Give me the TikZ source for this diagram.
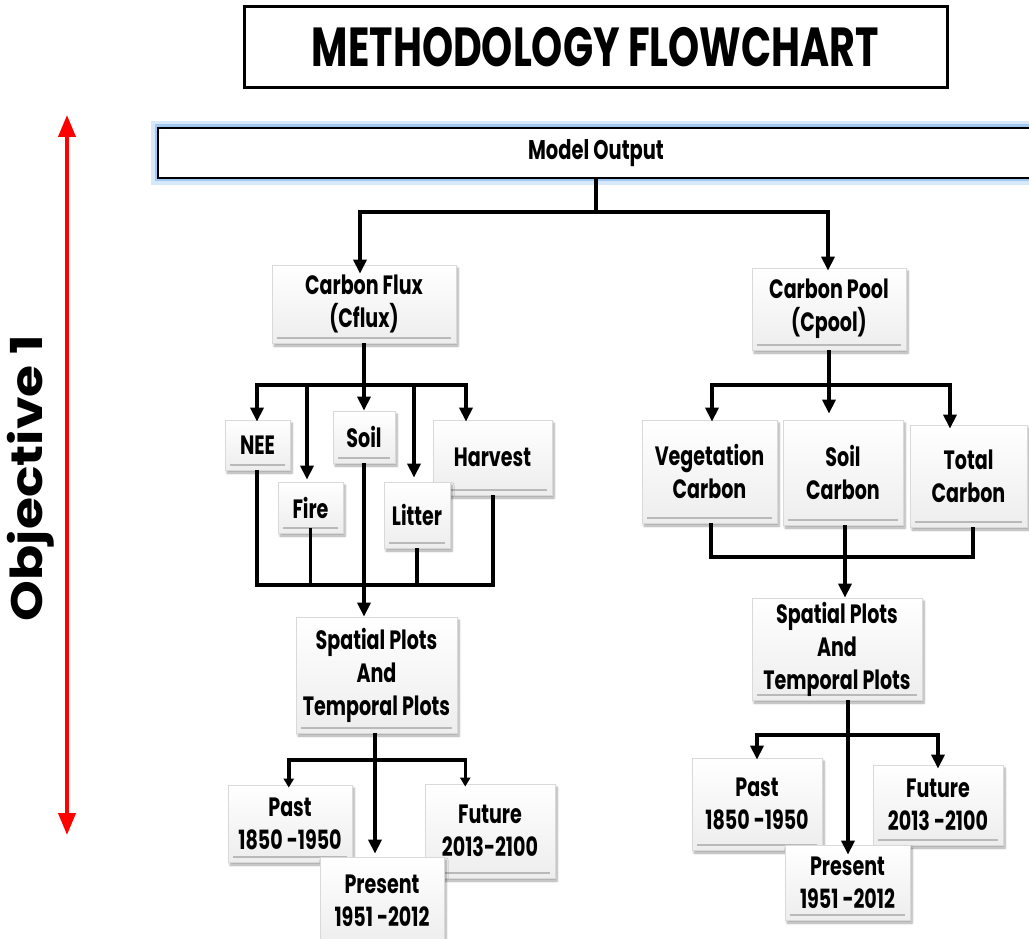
\documentclass[tikz,border=0pt]{standalone}
\usepackage{fontspec}
\setmainfont{Poppins}
\newfontfamily\narrowfont[FakeStretch=0.72]{Poppins}
\newfontfamily\widefont[FakeStretch=1.18]{Poppins}
\usetikzlibrary{arrows.meta,shadows.blur}
\definecolor{glowA}{RGB}{214,232,250}
\definecolor{glowB}{RGB}{160,200,240}
\tikzset{
  ln/.style={line width=3.5pt},
  arr/.style={line width=3.5pt,-{Triangle[length=14pt,width=13pt]}},
  arrs/.style={line width=3.5pt,-{Triangle[length=9pt,width=10pt]}},
  box/.style={draw=gray!30, line width=0.8pt, top color=white, bottom color=gray!14,
    blur shadow={shadow xshift=2pt, shadow yshift=-3pt, shadow blur steps=6, shadow opacity=35},
    align=center, inner sep=2pt, font=\narrowfont\bfseries\fontsize{26.5}{33}\selectfont,
    path picture={\draw[gray!55, line width=1.6pt]
      ([xshift=5pt,yshift=5pt]path picture bounding box.south west) --
      ([xshift=-5pt,yshift=5pt]path picture bounding box.south east);}},
}
\begin{document}
\begin{tikzpicture}[x=1pt,y=-1pt]
\useasboundingbox (0,0) rectangle (1029,939);
% title
\node[draw=black, line width=3pt, minimum width=703pt, minimum height=81pt,
  font=\narrowfont\bfseries\fontsize{55}{55}\selectfont] (title) at (595.5,47.5) {METHODOLOGY FLOWCHART};
% objective arrow
\coordinate (objtop) at (67,115);
\coordinate (objbot) at (67,835);
\draw[red, line width=4pt, {Triangle[length=22pt,width=17pt]}-{Triangle[length=22pt,width=17pt]}] (objtop) -- (objbot);
\node[rotate=90, font=\widefont\bfseries\fontsize{44}{44}\selectfont] (obj) at (31,478) {Objective 1};
% model output
\node[draw=black, line width=1.3pt, fill=white, minimum width=876pt, minimum height=50pt,
  preaction={draw=glowA, line width=14pt}, preaction={draw=glowB, line width=7pt},
  font=\narrowfont\bfseries\fontsize{27}{27}\selectfont] (mo) at (596,153) {Model Output};
% level 1
\node[box, minimum width=184pt, minimum height=78pt] (cflux) at (364,304) {Carbon Flux\\(Cflux)};
\node[box, minimum width=154pt, minimum height=82pt] (cpool) at (829,309) {Carbon Pool\\(Cpool)};
% flux children
\node[box, minimum width=65pt, minimum height=50pt] (nee) at (257.5,445) {NEE};
\node[box, minimum width=65pt, minimum height=51pt] (fire) at (310.5,507.5) {Fire};
\node[box, minimum width=62pt, minimum height=52pt] (soil) at (364,437) {Soil};
\node[box, minimum width=119pt, minimum height=75pt] (harvest) at (492.5,457.5) {Harvest};
\node[box, minimum width=66pt, minimum height=66pt] (litter) at (417,515) {Litter};
% pool children
\node[box, minimum width=135pt, minimum height=103pt] (veg) at (709.5,471.5) {Vegetation\\Carbon};
\node[box, minimum width=120pt, minimum height=105pt] (soilc) at (843,472.5) {Soil\\Carbon};
\node[box, minimum width=117pt, minimum height=102pt] (total) at (968.5,476) {Total\\Carbon};
% spatial
\node[box, minimum width=161pt, minimum height=116pt] (spl) at (376.5,675) {Spatial Plots\\And\\Temporal Plots};
\node[box, minimum width=170pt, minimum height=102pt] (spr) at (837,649) {Spatial Plots\\And\\Temporal Plots};
% periods left
\node[box, minimum width=124pt, minimum height=77pt] (pastl) at (290,823.5) {Past\\1850 -1950};
\node[box, minimum width=130pt, minimum height=94pt] (futl) at (490,831) {Future\\2013-2100};
\node[box, minimum width=124pt, minimum height=88pt] (presl) at (382,901) {Present\\1951 -2012};
% periods right
\node[box, minimum width=130pt, minimum height=92pt] (pastr) at (757,804) {Past\\1850 -1950};
\node[box, minimum width=130pt, minimum height=80pt] (futr) at (938,805) {Future\\2013 -2100};
\node[box, minimum width=125pt, minimum height=75pt] (presr) at (847.5,882.5) {Present\\1951 -2012};

% connectors: model output
\coordinate (m1) at (360,212);
\coordinate (m2) at (828,212);
\draw[ln] (mo.south) -- (mo.south |- m1);
\draw[ln] ([xshift=-1.75pt]m1) -- ([xshift=1.75pt]m2);
\draw[arr] (m1) -- ([yshift=-9pt]m1 |- cflux.north);
\draw[arr] (m2) -- ([yshift=-3pt]m2 |- cpool.north);
% flux bus
\coordinate (fa) at (257,385);
\coordinate (fb) at (466,385);
\coordinate (ff) at (307,385);
\coordinate (fl) at (414,385);
\draw[ln] (cflux.south) -- (cflux.south |- fa);
\draw[ln] ([xshift=-1.75pt]fa) -- ([xshift=1.75pt]fb);
\draw[arr] (fa) -- ([yshift=-2pt]fa |- nee.north);
\draw[arr] (ff) -- ([yshift=2pt]ff |- fire.north);
\draw[arr] (cflux.south |- fa) -- (soil.north);
\draw[arr] (fl) -- ([yshift=4pt]fl |- litter.north);
\draw[arr] (fb) -- ([yshift=-2pt]fb |- harvest.north);
% flux collector
\coordinate (ca) at (257,585);
\coordinate (cb) at (493,585);
\draw[ln] (nee.south -| ca) -- (ca);
\draw[ln] ([yshift=5pt]fire.south) -- (fire.south |- ca);
\draw[ln] (litter.south) -- (litter.south |- ca);
\draw[ln] (harvest.south -| cb) -- (cb);
\draw[ln] ([xshift=-1.75pt]ca) -- ([xshift=1.75pt]cb);
\draw[arr] (soil.south) -- (soil.south |- spl.north);
% spatial left to periods
\coordinate (ta) at (287,760);
\coordinate (tb) at (467,760);
\coordinate (tc) at (375,760);
\draw[ln] (spl.south -| tc) -- (tc);
\draw[ln] (ta) -- (tb);
\draw[arrs] ([xshift=1.75pt]ta) -- ([xshift=1.75pt,yshift=-3pt]ta |- pastl.north);
\draw[arr] (tc) -- ([yshift=3pt]tc |- presl.north);
\draw[arrs] ([xshift=-1.75pt]tb) -- ([xshift=-1.75pt,yshift=-3pt]tb |- futl.north);
% pool bus
\coordinate (pa) at (712,385);
\coordinate (pb) at (950,385);
\draw[ln] (cpool.south) -- (cpool.south |- pa);
\draw[ln] ([xshift=-1.75pt]pa) -- ([xshift=1.75pt]pb);
\draw[arr] (pa) -- ([yshift=-2pt]pa |- veg.north);
\draw[arr] (cpool.south |- pa) -- ([yshift=6pt]cpool.south |- soilc.north);
\draw[arr] (pb) -- ([yshift=-4pt]pb |- total.north);
% pool collector
\coordinate (qa) at (711,557);
\coordinate (qb) at (973,557);
\coordinate (qc) at (845,557);
\draw[ln] (veg.south -| qa) -- (qa);
\draw[ln] (total.south -| qb) -- (qb);
\draw[ln] ([xshift=-1.75pt]qa) -- ([xshift=1.75pt]qb);
\draw[arr] (soilc.south -| qc) -- (qc |- spr.north);
% spatial right to periods
\coordinate (ra) at (757,735);
\coordinate (rb) at (938,735);
\coordinate (rc) at (848,735);
\draw[ln] (spr.south -| rc) -- (rc);
\draw[ln] ([xshift=-1.75pt]ra) -- ([xshift=1.75pt]rb);
\draw[arr] (ra) -- ([yshift=-2pt]ra |- pastr.north);
\draw[arr] (rc) -- ([yshift=-10pt]rc |- presr.north);
\draw[arr] (rb) -- ([yshift=-4pt]rb |- futr.north);
\end{tikzpicture}
\end{document}
